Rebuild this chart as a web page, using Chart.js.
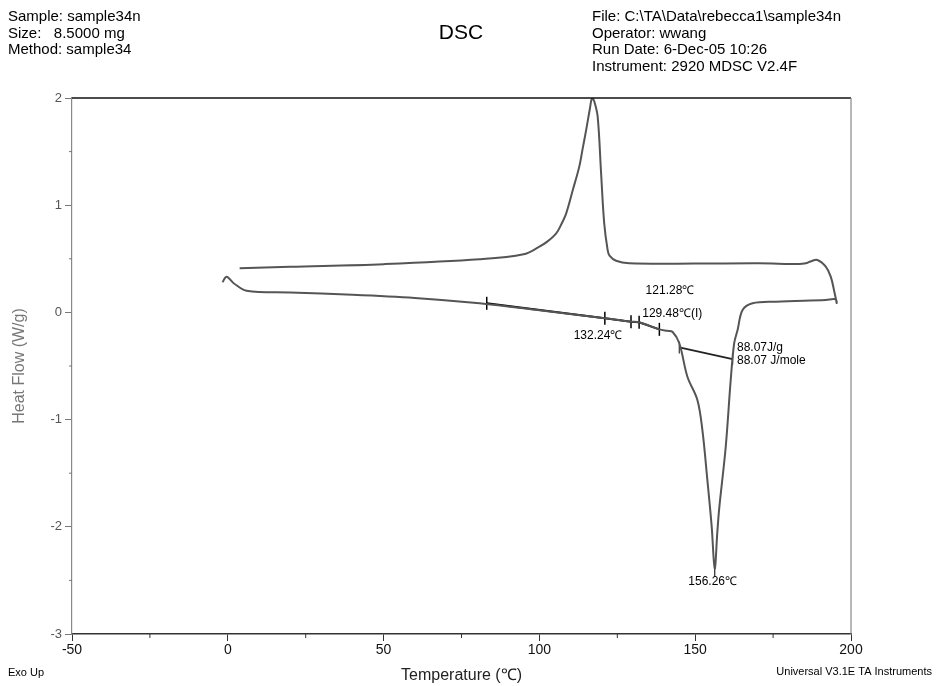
<!DOCTYPE html>
<html>
<head>
<meta charset="utf-8">
<script src="https://cdn.jsdelivr.net/npm/chart.js@4.4.0/dist/chart.umd.min.js"></script>
<style>
  body { margin: 0; background: #fff; }
  #wrap { width: 937px; height: 686px; }
</style>
</head>
<body>
<div id="wrap"><canvas id="dsc" width="937" height="686"></canvas></div>
<script>
// heat flow trace: heating run then cooling run (temperature in C, W/g)
var traceTemp = [-1.7, -0.4, 2, 6, 20, 40, 60, 80.8, 100, 121, 129.4, 132, 138.5, 141, 142.7, 144.9,
  147.5, 150.7, 152.3, 153.9, 155.3, 156.26, 157.1, 157.7, 159.8, 161.4, 162.5, 163.6, 165.2, 168.4,
  175.9, 191.9, 195.1, 195.4,
  194.6, 193.5, 191.9, 189.2, 187, 185.5, 183.3, 170.5, 150, 128.8, 124.6, 122.5, 121.9, 120.8,
  119.8, 118.7, 117.6, 116.9, 116.2, 115, 113.9, 112.8, 110.7, 108.6, 107, 105.4, 102.5, 100, 94.9,
  80.8, 50, 20, 3.8];
var traceFlow = [0.281, 0.333, 0.27, 0.202, 0.185, 0.165, 0.135, 0.085, 0.02, -0.055, -0.087, -0.092, -0.158, -0.172, -0.18, -0.288,
  -0.6, -0.817, -1.097, -1.563, -2.0, -2.39, -2.05, -1.83, -1.253, -0.63, -0.288, -0.164, 0.022, 0.085,
  0.1, 0.116, 0.122, 0.088,
  0.2, 0.333, 0.426, 0.489, 0.475, 0.458, 0.451, 0.458, 0.455, 0.458, 0.482, 0.53, 0.582, 0.831,
  1.298, 1.826, 1.97, 2.0, 1.9, 1.7, 1.53, 1.36, 1.14, 0.924, 0.82, 0.738, 0.66, 0.613, 0.542,
  0.495, 0.45, 0.425, 0.411];

// onset baseline construction
var baseTemp = [83.1, 121, 129.4, 132, 138.5];
var baseFlow = [0.085, -0.055, -0.087, -0.092, -0.158];

// peak integration line
var areaTemp = [144.9, 162];
var areaFlow = [-0.327, -0.435];

// peak marker
var peakTemp = [156.26];
var peakFlow = [-2.42];

var xTicks = [-50, 0, 50, 100, 150, 200];
var yTicks = [-3, -2, -1, 0, 1, 2];

var labelText = ["121.28\u2103", "129.48\u2103(I)", "132.24\u2103", "88.07J/g", "88.07 J/mole", "156.26\u2103"];
var labelTemp = [141.9, 133.0, 118.8, 163.4, 163.4, 155.6];
var labelFlow = [0.2, -0.008, -0.217, -0.326, -0.45, -2.512];
var labelAlign = ["center", "left", "center", "left", "left", "center"];

function pts(xs, ys) {
  return xs.map(function (x, i) { return { x: x, y: ys[i] }; });
}

var FONT = "'Liberation Sans', Arial, sans-serif";

var extras = {
  id: "extras",
  afterDraw: function (chart) {
    var ctx = chart.ctx, a = chart.chartArea, sx = chart.scales.x, sy = chart.scales.y;
    ctx.save();
    // top and right frame
    ctx.strokeStyle = "#111"; ctx.lineWidth = 1.5;
    ctx.beginPath(); ctx.moveTo(a.left, a.top); ctx.lineTo(a.right, a.top); ctx.stroke();
    ctx.strokeStyle = "#888"; ctx.lineWidth = 1.2;
    ctx.beginPath(); ctx.moveTo(a.right, a.top); ctx.lineTo(a.right, a.bottom); ctx.stroke();
    // minor ticks
    ctx.strokeStyle = "#333"; ctx.lineWidth = 1;
    for (var t = -25; t < 200; t += 50) {
      var px = sx.getPixelForValue(t);
      ctx.beginPath(); ctx.moveTo(px, a.bottom); ctx.lineTo(px, a.bottom + 4); ctx.stroke();
    }
    ctx.strokeStyle = "#777";
    for (var v = -2.5; v < 2; v += 1) {
      var py = sy.getPixelForValue(v);
      ctx.beginPath(); ctx.moveTo(a.left - 3, py); ctx.lineTo(a.left, py); ctx.stroke();
    }
    // annotations
    ctx.fillStyle = "#000";
    ctx.font = "12px " + FONT;
    ctx.textBaseline = "middle";
    labelText.forEach(function (s, i) {
      ctx.textAlign = labelAlign[i];
      ctx.fillText(s, sx.getPixelForValue(labelTemp[i]), sy.getPixelForValue(labelFlow[i]));
    });
    // header
    ctx.textAlign = "left";
    ctx.font = "15px " + FONT;
    ["Sample: sample34n", "Size:   8.5000 mg", "Method: sample34"].forEach(function (s, i) {
      ctx.fillText(s, 8, 17 + i * 16.5);
    });
    ["File: C:\\TA\\Data\\rebecca1\\sample34n", "Operator: wwang", "Run Date: 6-Dec-05 10:26",
     "Instrument: 2920 MDSC V2.4F"].forEach(function (s, i) {
      ctx.fillText(s, 592, 17 + i * 16.5);
    });
    ctx.textAlign = "center";
    ctx.font = "21px " + FONT;
    ctx.fillText("DSC", 461, 33);
    ctx.font = "11px " + FONT;
    ctx.textAlign = "left";
    ctx.fillText("Exo Up", 8, 673);
    ctx.textAlign = "right";
    ctx.fillText("Universal V3.1E TA Instruments", 932, 672);
    ctx.restore();
  }
};

new Chart(document.getElementById("dsc"), {
  type: "scatter",
  data: {
    datasets: [
      { data: pts(traceTemp, traceFlow), showLine: true, borderColor: "#555", borderWidth: 2,
        pointRadius: 0, tension: 0.35, fill: false },
      { data: pts(baseTemp, baseFlow), showLine: true, borderColor: "#000", borderWidth: 2,
        pointStyle: "line", rotation: 90, pointRadius: 6.5, pointBorderWidth: 1.5,
        pointBorderColor: "#000", tension: 0 },
      { data: pts(areaTemp, areaFlow), showLine: true, borderColor: "#222", borderWidth: 1.8,
        pointStyle: "line", rotation: 90, pointRadius: 6, pointBorderWidth: 1.3,
        pointBorderColor: "#444", tension: 0 },
      { data: pts(peakTemp, peakFlow), showLine: false, pointStyle: "line", rotation: 90,
        pointRadius: 5, pointBorderWidth: 1.3, pointBorderColor: "#333" }
    ]
  },
  options: {
    responsive: false,
    animation: false,
    layout: { padding: { top: 98, right: 86, left: 0, bottom: 0 } },
    plugins: { legend: { display: false }, tooltip: { enabled: false } },
    scales: {
      x: {
        type: "linear", min: -50, max: 200,
        afterBuildTicks: function (s) { s.ticks = xTicks.map(function (v) { return { value: v }; }); },
        afterFit: function (s) { s.height = 52; },
        ticks: { font: { size: 14, family: FONT }, color: "#111", padding: 1, maxRotation: 0 },
        grid: { drawOnChartArea: false, tickLength: 7, tickColor: "#333", tickWidth: 1 },
        border: { color: "#333", width: 1.5 },
        title: { display: true, text: "Temperature (\u2103)", color: "#222",
          font: { size: 16, family: FONT, lineHeight: 1.25 }, padding: { top: 0, bottom: 0 } }
      },
      y: {
        type: "linear", min: -3, max: 2,
        afterBuildTicks: function (s) { s.ticks = yTicks.map(function (v) { return { value: v }; }); },
        afterFit: function (s) { s.width = 72; },
        ticks: { font: { size: 13, family: FONT }, color: "#555", padding: 3 },
        grid: { drawOnChartArea: false, tickLength: 7, tickColor: "#777", tickWidth: 1 },
        border: { color: "#888", width: 1.2 },
        title: { display: true, text: "Heat Flow (W/g)", color: "#777",
          font: { size: 16, family: FONT, lineHeight: 1.2 }, padding: { top: 10, bottom: 0 } }
      }
    }
  },
  plugins: [extras]
});
</script>
</body>
</html>
